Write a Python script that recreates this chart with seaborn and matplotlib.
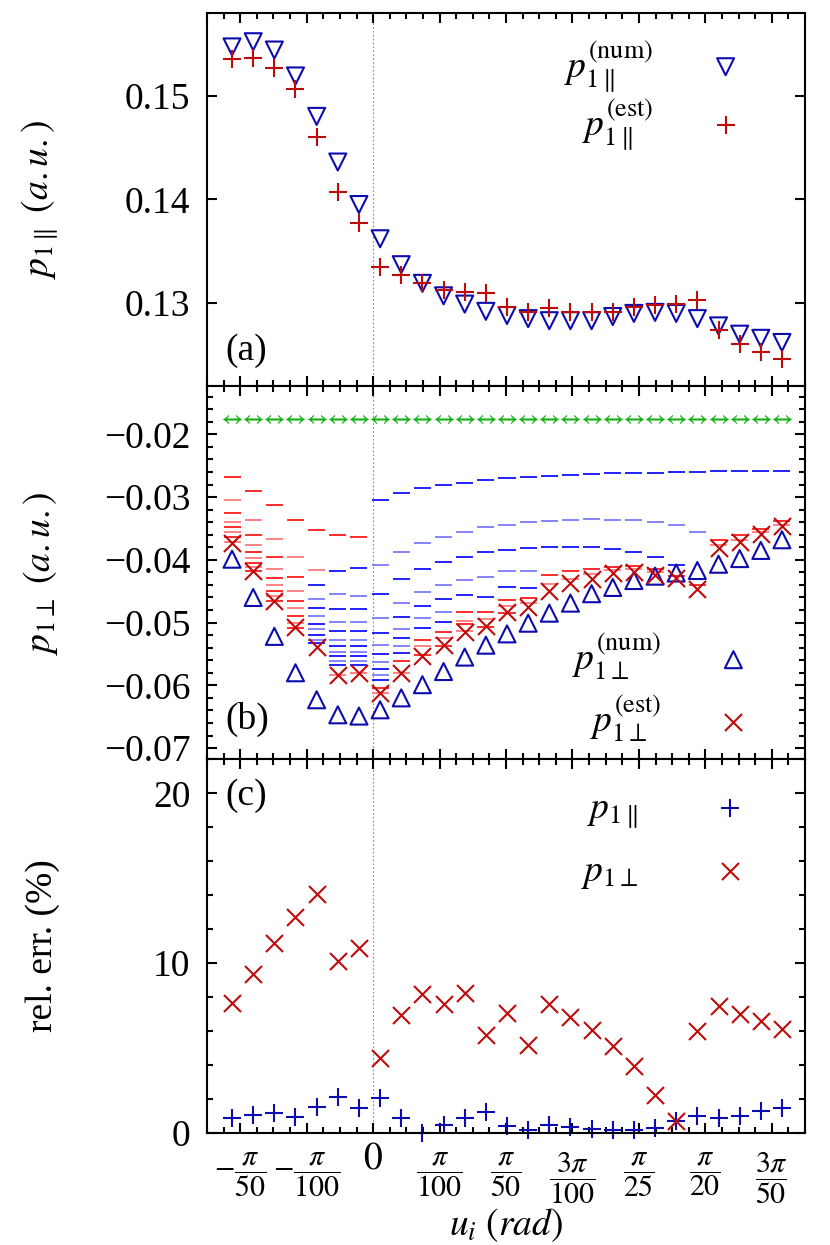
import numpy as np
import pandas as pd
import matplotlib
matplotlib.use('Agg')
import matplotlib.pyplot as plt
from matplotlib.ticker import FixedLocator, MultipleLocator
from matplotlib.transforms import ScaledTranslation
import seaborn as sns

# angle grid (rad)
u = [-0.0667, -0.0567, -0.0467, -0.0367, -0.0267, -0.0167, -0.0067,
     0.0033, 0.0133, 0.0233, 0.0333, 0.0433, 0.0533, 0.0633, 0.0733,
     0.0833, 0.0933, 0.1033, 0.1133, 0.1233, 0.1333, 0.1433, 0.1533,
     0.1633, 0.1733, 0.1833, 0.1933]

# (a) parallel component
p_par_num = [0.1547, 0.1552, 0.1544, 0.1519, 0.1480, 0.1436, 0.1395, 0.1362,
             0.1337, 0.1319, 0.1307, 0.1299, 0.1292, 0.1288, 0.1285, 0.1283,
             0.1283, 0.1283, 0.1287, 0.1290, 0.1291, 0.1290, 0.1285, 0.1278,
             0.1270, 0.1266, 0.1262]
p_par_est = [0.1535, 0.1536, 0.1527, 0.1506, 0.1460, 0.1407, 0.1377, 0.1335,
             0.1327, 0.1319, 0.1313, 0.1311, 0.1310, 0.1296, 0.1291, 0.1295,
             0.1291, 0.1291, 0.1291, 0.1296, 0.1298, 0.1299, 0.1303, 0.1274,
             0.1261, 0.1253, 0.1246]

# (b) perpendicular component
p_perp_num = [-0.0399, -0.0460, -0.0522, -0.0580, -0.0623, -0.0647, -0.0649,
              -0.0639, -0.0620, -0.0599, -0.0578, -0.0555, -0.0536, -0.0518,
              -0.0501, -0.0485, -0.0469, -0.0454, -0.0444, -0.0433, -0.0426,
              -0.0421, -0.0417, -0.0407, -0.0398, -0.0385, -0.0368]
p_perp_est = [-0.0373, -0.0418, -0.0465, -0.0507, -0.0539, -0.0583, -0.0580,
              -0.0612, -0.0580, -0.0554, -0.0536, -0.0515, -0.0506, -0.0483,
              -0.0475, -0.0450, -0.0437, -0.0430, -0.0421, -0.0420, -0.0424,
              -0.0429, -0.0447, -0.0381, -0.0371, -0.0359, -0.0346]
p_perp_0 = [-0.0175, -0.0175, -0.0175, -0.0175, -0.0175, -0.0175, -0.0175,
            -0.0175, -0.0175, -0.0175, -0.0175, -0.0175, -0.0175, -0.0175,
            -0.0175, -0.0175, -0.0175, -0.0175, -0.0175, -0.0175, -0.0175,
            -0.0175, -0.0175, -0.0175, -0.0175, -0.0175, -0.0175]

# partial sums per column (red / blue dashes)
red_dash = [
    [-0.0268, -0.0305, -0.0325, -0.0339, -0.0348, -0.0355, -0.0364, -0.0372],
    [-0.0290, -0.0336, -0.0360, -0.0377, -0.0388, -0.0397, -0.0405, -0.0412, -0.0418],
    [-0.0313, -0.0367, -0.0396, -0.0415, -0.0429, -0.0440, -0.0450, -0.0458, -0.0466],
    [-0.0336, -0.0395, -0.0428, -0.0449, -0.0465, -0.0477, -0.0490, -0.0500, -0.0508],
    [-0.0352, -0.0416],
    [-0.0361, -0.0583],
    [-0.0363, -0.0581],
    [-0.0604, -0.0613],
    [-0.0562, -0.0581],
    [-0.0527, -0.0538, -0.0551],
    [-0.0515, -0.0524, -0.0537],
    [-0.0483, -0.0497, -0.0503, -0.0514],
    [-0.0483, -0.0495, -0.0507],
    [-0.0464, -0.0473, -0.0484],
    [-0.0461, -0.0469],
    [-0.0424, -0.0438],
    [-0.0418, -0.0431],
    [-0.0414, -0.0422],
    [-0.0412, -0.0416],
    [-0.0410, -0.0414],
    [-0.0414, -0.0420],
    [-0.0425],
    [-0.0440],
    [-0.0369, -0.0376],
    [-0.0361, -0.0368],
    [-0.0351, -0.0356],
    [-0.0338, -0.0344],
]
blue_dash = [
    [], [], [], [],
    [-0.0440, -0.0462, -0.0477, -0.0490, -0.0502, -0.0511, -0.0519, -0.0527, -0.0532],
    [-0.0417, -0.0455, -0.0478, -0.0499, -0.0514, -0.0527, -0.0538, -0.0547, -0.0554, -0.0562, -0.0568],
    [-0.0413, -0.0457, -0.0479, -0.0499, -0.0514, -0.0527, -0.0538, -0.0547, -0.0554, -0.0562, -0.0568],
    [-0.0304, -0.0408, -0.0454, -0.0493, -0.0516, -0.0535, -0.0550, -0.0563, -0.0574, -0.0583, -0.0591],
    [-0.0294, -0.0387, -0.0430, -0.0469, -0.0491, -0.0510, -0.0525, -0.0538, -0.0549],
    [-0.0286, -0.0373, -0.0414, -0.0452, -0.0474, -0.0493, -0.0509],
    [-0.0281, -0.0363, -0.0403, -0.0440, -0.0462, -0.0483, -0.0499],
    [-0.0277, -0.0355, -0.0395, -0.0432, -0.0456],
    [-0.0273, -0.0348, -0.0388, -0.0428, -0.0460],
    [-0.0270, -0.0344, -0.0384, -0.0418, -0.0444],
    [-0.0268, -0.0340, -0.0381, -0.0417, -0.0445],
    [-0.0266, -0.0338, -0.0379],
    [-0.0264, -0.0336, -0.0379],
    [-0.0263, -0.0335, -0.0380],
    [-0.0262, -0.0336, -0.0383],
    [-0.0261, -0.0337, -0.0388],
    [-0.0261, -0.0340, -0.0396],
    [-0.0260, -0.0345, -0.0408],
    [-0.0260, -0.0355],
    [-0.0259],
    [-0.0259],
    [-0.0258],
    [-0.0258],
]

# (c) relative errors (%)
err_par = [0.85, 1.04, 1.14, 0.94, 1.49, 2.12, 1.47, 2.02, 0.85, 0.0, 0.45,
           0.88, 1.24, 0.37, 0.16, 0.45, 0.31, 0.22, 0.16, 0.16, 0.30, 0.71,
           1.00, 0.85, 1.00, 1.28, 1.43]
err_perp = [7.65, 9.34, 11.18, 12.71, 14.04, 10.12, 10.90, 4.43, 6.92, 8.20,
            7.61, 8.24, 5.75, 7.06, 5.16, 7.61, 6.82, 6.04, 5.10, 3.92, 2.22,
            0.71, 6.00, 7.45, 6.98, 6.59, 6.14]

xtick_pos = [-np.pi/50, -np.pi/100, 0, np.pi/100, np.pi/50, 3*np.pi/100,
             np.pi/25, np.pi/20, 3*np.pi/50]
xtick_lab = [r'$-\dfrac{\pi}{50}$', r'$-\dfrac{\pi}{100}$', r'$0$',
             r'$\dfrac{\pi}{100}$', r'$\dfrac{\pi}{50}$', r'$\dfrac{3\pi}{100}$',
             r'$\dfrac{\pi}{25}$', r'$\dfrac{\pi}{20}$', r'$\dfrac{3\pi}{50}$']


def dash_frame(cols):
    rows = []
    for i, vals in enumerate(cols):
        for j, v in enumerate(vals):
            rows.append((u[i], v, j % 2))
    return pd.DataFrame(rows, columns=['u', 'p', 'shade'])


sns.set_style('ticks', {'axes.edgecolor': 'black', 'xtick.color': 'black',
                        'ytick.color': 'black', 'text.color': 'black',
                        'axes.labelcolor': 'black'})
plt.rcParams['font.family'] = ['Liberation Serif', 'DejaVu Serif']
plt.rcParams['mathtext.fontset'] = 'stix'
plt.rcParams['font.size'] = 27
plt.rcParams['axes.linewidth'] = 1.5

BLUE = '#0c0cae'
RED = '#bf0a0a'
GREEN = '#12b012'

fig, axes = plt.subplots(3, 1, figsize=(8.3, 12.45), dpi=100, sharex=True,
                         gridspec_kw=dict(hspace=0, left=0.2494, right=0.9699,
                                          top=0.9898, bottom=0.0902))
ax1, ax2, ax3 = axes

# (a)
sns.scatterplot(x=u, y=p_par_num, marker='v', s=150, color=BLUE,
                facecolor='none', edgecolor=BLUE, linewidth=1.5,
                label=r'$p^{(\mathrm{num})}_{1\parallel}$', ax=ax1)
sns.scatterplot(x=u, y=p_par_est, marker='+', s=160, color=RED, linewidth=1.5,
                label=r'$p^{(\mathrm{est})}_{1\parallel}$', ax=ax1)
ax1.set_ylim(0.122, 0.158)
ax1.set_yticks([0.13, 0.14, 0.15])
ax1.set_ylabel(r'$p_{1\parallel}\ (a.u.)$')
ax1.legend(loc='upper right', bbox_to_anchor=(0.955, 0.972), borderaxespad=0,
           frameon=False, markerfirst=False, handletextpad=0.93,
           labelspacing=0.08)
ax1.text(0.03, 0.094, '(a)', transform=ax1.transAxes, va='center')

# (b)
sns.scatterplot(data=dash_frame(red_dash), x='u', y='p', hue='shade',
                palette={0: '#ff1a1a', 1: '#ff7a7a'}, marker='_', s=150,
                linewidth=1.3, legend=False, ax=ax2)
sns.scatterplot(data=dash_frame(blue_dash), x='u', y='p', hue='shade',
                palette={0: '#1010ff', 1: '#7a7aff'}, marker='_', s=150,
                linewidth=1.3, legend=False, ax=ax2)
sns.scatterplot(x=u, y=p_perp_0, marker=r'$\leftrightarrow$', s=170,
                color=GREEN, edgecolor=GREEN, linewidth=0.3, ax=ax2)
sns.scatterplot(x=u, y=p_perp_num, marker='^', s=150, color=BLUE,
                facecolor='none', edgecolor=BLUE, linewidth=1.5,
                label=r'$p^{(\mathrm{num})}_{1\perp}$', ax=ax2)
sns.scatterplot(x=u, y=p_perp_est, marker='x', s=150, color=RED, linewidth=1.5,
                label=r'$p^{(\mathrm{est})}_{1\perp}$', ax=ax2)
ax2.set_ylim(-0.0718, -0.0123)
ax2.set_yticks([-0.07, -0.06, -0.05, -0.04, -0.03, -0.02])
ax2.yaxis.set_minor_locator(MultipleLocator(0.002))
ax2.set_ylabel(r'$p_{1\perp}\ (a.u.)$')
ax2.legend(loc='lower right', bbox_to_anchor=(0.968, 0.0), borderaxespad=0,
           frameon=False, markerfirst=False, handletextpad=0.93,
           labelspacing=0.3)
ax2.text(0.03, 0.108, '(b)', transform=ax2.transAxes, va='center')

# (c)
sns.scatterplot(x=u, y=err_par, marker='+', s=160, color=BLUE, linewidth=1.5,
                label=r'$p_{1\parallel}$', clip_on=False, ax=ax3)
sns.scatterplot(x=u, y=err_perp, marker='x', s=150, color=RED, linewidth=1.5,
                label=r'$p_{1\perp}$', ax=ax3)
ax3.set_ylim(0, 22)
ax3.set_yticks([0, 10, 20])
ax3.yaxis.set_minor_locator(MultipleLocator(2))
ax3.set_ylabel('rel. err. (%)')
ax3.legend(loc='upper right', bbox_to_anchor=(0.9617, 0.9548), borderaxespad=0,
           frameon=False, markerfirst=False, handletextpad=1.44,
           labelspacing=0.65)
ax3.text(0.03, 0.903, '(c)', transform=ax3.transAxes, va='center')

ax3.set_xlim(-np.pi/40, 13*np.pi/200)
ax3.xaxis.set_major_locator(FixedLocator(xtick_pos))
ax3.set_xticklabels(xtick_lab)
ax3.xaxis.set_minor_locator(MultipleLocator(np.pi/400))
ax3.set_xlabel(r'$u_i\ (rad)$')
ax3.xaxis.set_label_coords(0.5, -0.198)

for ax in axes:
    ax.axvline(0, color='#888888', lw=0.8, ls=(0, (1.5, 2)), zorder=0)
    ax.tick_params(which='both', direction='in', top=True, right=True,
                   width=1.5, pad=12, colors='black')
    ax.tick_params(which='major', length=7)
    ax.tick_params(which='minor', length=4)
    ax.yaxis.set_label_coords(-0.245, 0.5)
ax1.tick_params(axis='y', which='minor', left=False, right=False)
ax3.tick_params(axis='x', which='major', pad=7)

# fractions sit a little lower and smaller than the plain "0"
shift = ScaledTranslation(0, -6 / 72, fig.dpi_scale_trans)
for lbl in ax3.get_xticklabels():
    if lbl.get_text() == '$0$':
        lbl.set_fontsize(27)
    else:
        lbl.set_fontsize(21.5)
        lbl.set_transform(lbl.get_transform() + shift)

fig.savefig('out.png', dpi=100)
